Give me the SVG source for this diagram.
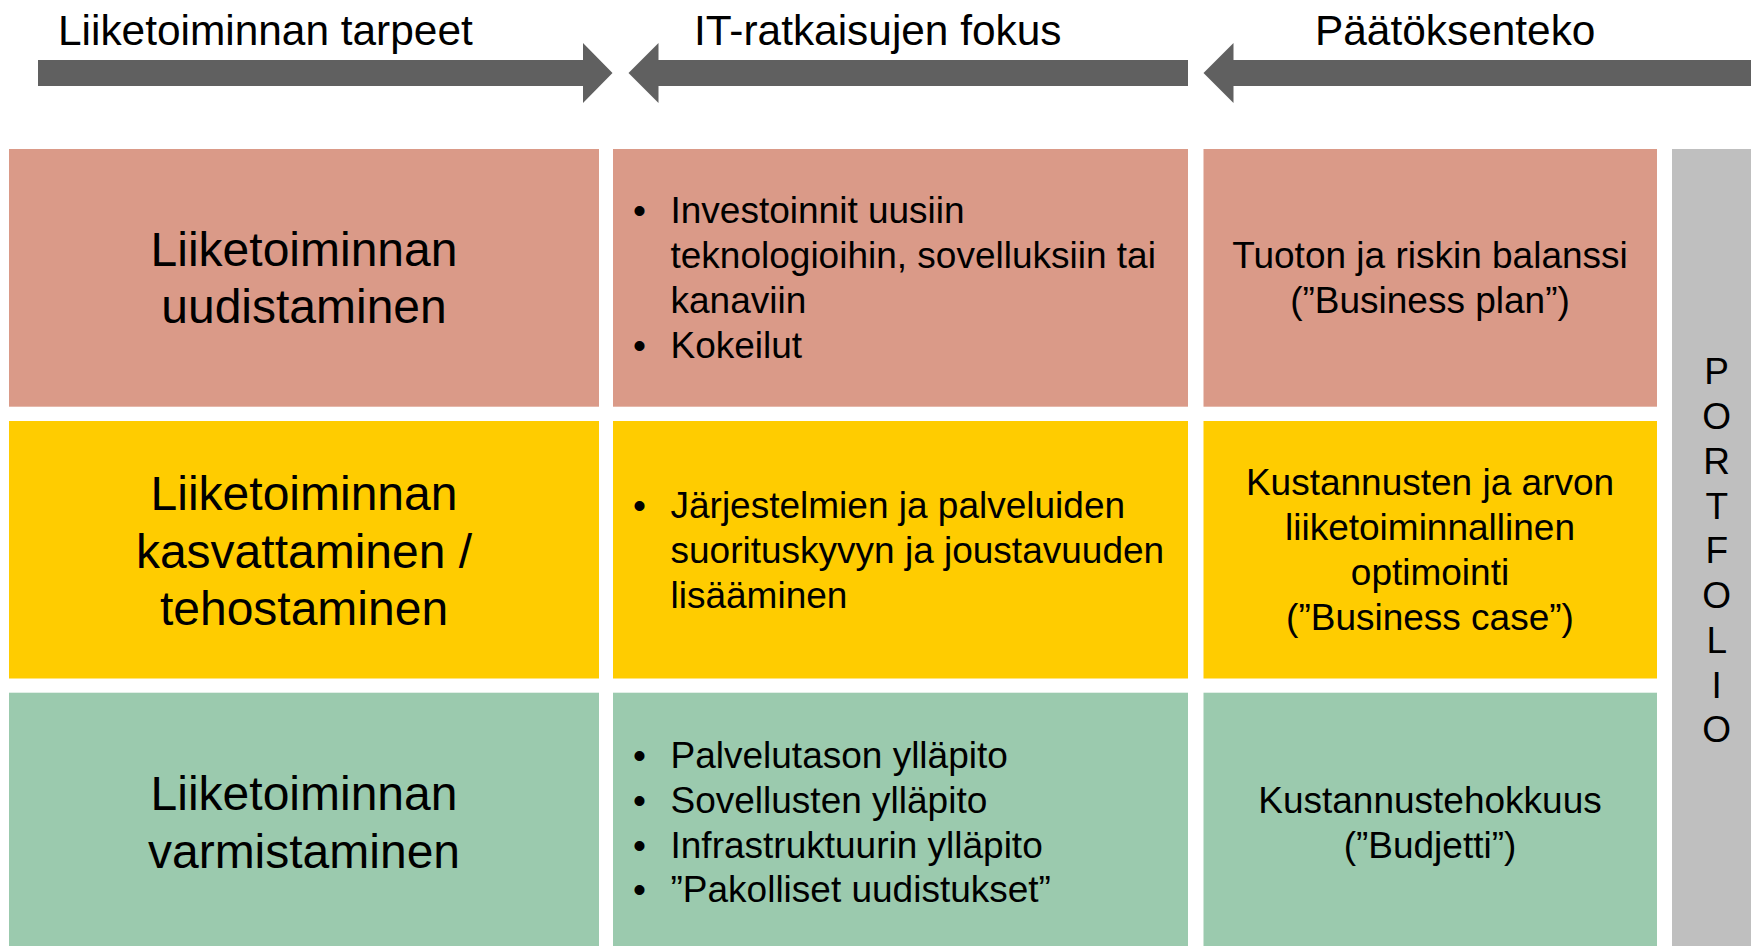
<svg xmlns="http://www.w3.org/2000/svg" width="1751" height="946" viewBox="0 0 1751 946">
<style>
text{font-family:"Liberation Sans",Arial,sans-serif;fill:#000}
.hd{font-size:42.4px}
.big{font-size:48px;text-anchor:middle}
.t{font-size:37px}
.c{font-size:37px;text-anchor:middle}
.b{font-size:37px;text-anchor:middle}
.arr{fill:#606060}
.r1{fill:#DA9A88}
.r2{fill:#FFCC00}
.r3{fill:#9BCAAE}
.pf{fill:#BFBFBF}
</style>
<rect width="1751" height="946" fill="#fff"/>
<g id="connectors">
<polygon class="arr" points="38,60 583,60 583,43 612.5,73 583,103 583,86 38,86"/>
<polygon class="arr" points="628.5,73 658.5,43 658.5,60 1188,60 1188,86 658.5,86 658.5,103"/>
<polygon class="arr" points="1203.5,73 1233.5,43 1233.5,60 1751,60 1751,86 1233.5,86 1233.5,103"/>
</g>
<g id="headers">
<text class="hd" x="58" y="45">Liiketoiminnan tarpeet</text>
<text class="hd" x="694" y="45">IT-ratkaisujen fokus</text>
<text class="hd" x="1315" y="45">Päätöksenteko</text>
</g>
<g id="row1-col1">
<rect class="r1" x="9" y="149" width="590" height="257.7"/>
<text class="big" x="304" y="266">Liiketoiminnan</text>
<text class="big" x="304" y="323">uudistaminen</text>
</g>
<g id="row1-col2">
<rect class="r1" x="613" y="149" width="575" height="257.7"/>
<text class="b" x="639.5" y="223.3">•</text>
<text class="t" x="670.5" y="223.3">Investoinnit uusiin</text>
<text class="t" x="670.5" y="268.3">teknologioihin, sovelluksiin tai</text>
<text class="t" x="670.5" y="313.3">kanaviin</text>
<text class="b" x="639.5" y="357.7">•</text>
<text class="t" x="670.5" y="357.7">Kokeilut</text>
</g>
<g id="row1-col3">
<rect class="r1" x="1203.5" y="149" width="453.5" height="257.7"/>
<text class="c" x="1430" y="268.3">Tuoton ja riskin balanssi</text>
<text class="c" x="1430" y="313.3">(”Business plan”)</text>
</g>
<g id="row2-col1">
<rect class="r2" x="9" y="421" width="590" height="257.5"/>
<text class="big" x="304" y="510">Liiketoiminnan</text>
<text class="big" x="304" y="567.5">kasvattaminen /</text>
<text class="big" x="304" y="624.5">tehostaminen</text>
</g>
<g id="row2-col2">
<rect class="r2" x="613" y="421" width="575" height="257.5"/>
<text class="b" x="639.5" y="518">•</text>
<text class="t" x="670.5" y="518">Järjestelmien ja palveluiden</text>
<text class="t" x="670.5" y="562.7">suorituskyvyn ja joustavuuden</text>
<text class="t" x="670.5" y="607.7">lisääminen</text>
</g>
<g id="row2-col3">
<rect class="r2" x="1203.5" y="421" width="453.5" height="257.5"/>
<text class="c" x="1430" y="495">Kustannusten ja arvon</text>
<text class="c" x="1430" y="540">liiketoiminnallinen</text>
<text class="c" x="1430" y="585">optimointi</text>
<text class="c" x="1430" y="630">(”Business case”)</text>
</g>
<g id="row3-col1">
<rect class="r3" x="9" y="692.7" width="590" height="253.3"/>
<text class="big" x="304" y="810">Liiketoiminnan</text>
<text class="big" x="304" y="867.5">varmistaminen</text>
</g>
<g id="row3-col2">
<rect class="r3" x="613" y="692.7" width="575" height="253.3"/>
<text class="b" x="639.5" y="768.3">•</text>
<text class="t" x="670.5" y="768.3">Palvelutason ylläpito</text>
<text class="b" x="639.5" y="813">•</text>
<text class="t" x="670.5" y="813">Sovellusten ylläpito</text>
<text class="b" x="639.5" y="857.5">•</text>
<text class="t" x="670.5" y="857.5">Infrastruktuurin ylläpito</text>
<text class="b" x="639.5" y="902">•</text>
<text class="t" x="670.5" y="902">”Pakolliset uudistukset”</text>
</g>
<g id="row3-col3">
<rect class="r3" x="1203.5" y="692.7" width="453.5" height="253.3"/>
<text class="c" x="1430" y="812.5">Kustannustehokkuus</text>
<text class="c" x="1430" y="857.5">(”Budjetti”)</text>
</g>
<g id="portfolio">
<rect class="pf" x="1672" y="149" width="79" height="797"/>
<text class="c" x="1716.7" y="384">P</text>
<text class="c" x="1716.7" y="429">O</text>
<text class="c" x="1716.7" y="474">R</text>
<text class="c" x="1716.7" y="518.5">T</text>
<text class="c" x="1716.7" y="563">F</text>
<text class="c" x="1716.7" y="608">O</text>
<text class="c" x="1716.7" y="653">L</text>
<text class="c" x="1716.7" y="697.5">I</text>
<text class="c" x="1716.7" y="742">O</text>
</g>
</svg>
